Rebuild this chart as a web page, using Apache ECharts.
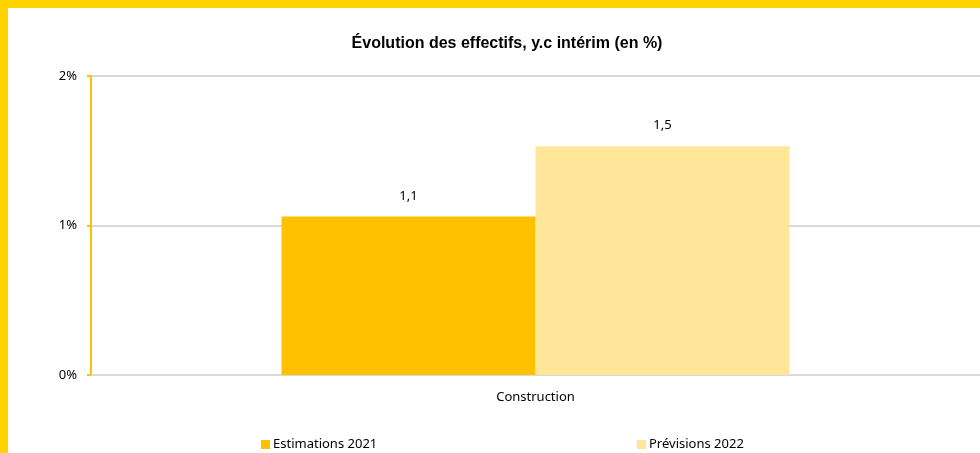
<!DOCTYPE html>
<html>
<head>
<meta charset="utf-8">
<script src="https://cdn.jsdelivr.net/npm/echarts@6/dist/echarts.min.js"></script>
<style>
html,body{margin:0;padding:0;background:#fff;}
#c{width:980px;height:453px;}
</style>
</head>
<body>
<div id="c"></div>
<script>
const categories = ['Construction'];
const seriesNames = ['Estimations 2021', 'Prévisions 2022'];
const estimations2021 = [1.06];
const previsions2022 = [1.53];
const yTicks = [0, 1, 2];

const chart = echarts.init(document.getElementById('c'));
const fmt = v => v.toFixed(1).replace('.', ',');
const lbl = {
  show: true, position: 'top', distance: 14,
  color: '#000', fontFamily: 'Noto Sans, sans-serif', fontSize: 13,
  formatter: p => fmt(p.value)
};
chart.setOption({
  animation: false,
  title: {
    text: 'Évolution des effectifs, y.c intérim (en %)',
    left: 502, top: 31, textAlign: 'center',
    textStyle: {fontFamily: 'Liberation Sans, Arial, sans-serif', fontSize: 16, fontWeight: 'bold', color: '#000'}
  },
  graphic: [
    {type: 'rect', shape: {x: 0, y: 0, width: 980, height: 8}, style: {fill: '#FFD200'}, z: 100},
    {type: 'rect', shape: {x: 0, y: 0, width: 8, height: 453}, style: {fill: '#FFD200'}, z: 100}
  ],
  legend: [
    {data: [seriesNames[0]], left: 256, top: 433, itemWidth: 9, itemHeight: 9, itemGap: 5, icon: 'rect',
     textStyle: {fontFamily: 'Noto Sans, sans-serif', fontSize: 13, color: '#000', padding: [0,0,0,-2]}},
    {data: [seriesNames[1]], left: 632, top: 433, itemWidth: 9, itemHeight: 9, itemGap: 5, icon: 'rect',
     textStyle: {fontFamily: 'Noto Sans, sans-serif', fontSize: 13, color: '#000', padding: [0,0,0,-2]}}
  ],
  grid: {left: 91, top: 76, width: 894, height: 299, containLabel: false},
  xAxis: {
    type: 'category', data: categories,
    axisLine: {show: true, lineStyle: {color: '#D9D9D9', width: 2}},
    axisTick: {show: false},
    axisLabel: {color: '#000', fontFamily: 'Noto Sans, sans-serif', fontSize: 13, margin: 16}
  },
  yAxis: {
    type: 'value', min: yTicks[0], max: yTicks[yTicks.length - 1], interval: 1,
    axisLine: {show: true, lineStyle: {color: '#FFC000', width: 2}},
    axisTick: {show: true, length: 4, lineStyle: {color: '#FFC000', width: 2}},
    splitLine: {show: true, lineStyle: {color: '#D9D9D9', width: 2}},
    axisLabel: {color: '#000', fontFamily: 'Noto Sans, sans-serif', fontSize: 13, margin: 14,
      formatter: v => v + '%'}
  },
  series: [
    {name: seriesNames[0], type: 'bar', data: estimations2021, barWidth: 254, barGap: '0%',
     itemStyle: {color: '#FFC000'}, label: lbl},
    {name: seriesNames[1], type: 'bar', data: previsions2022, barWidth: 254, barGap: '0%',
     itemStyle: {color: '#FFE699'}, label: lbl}
  ]
});
</script>
</body>
</html>
